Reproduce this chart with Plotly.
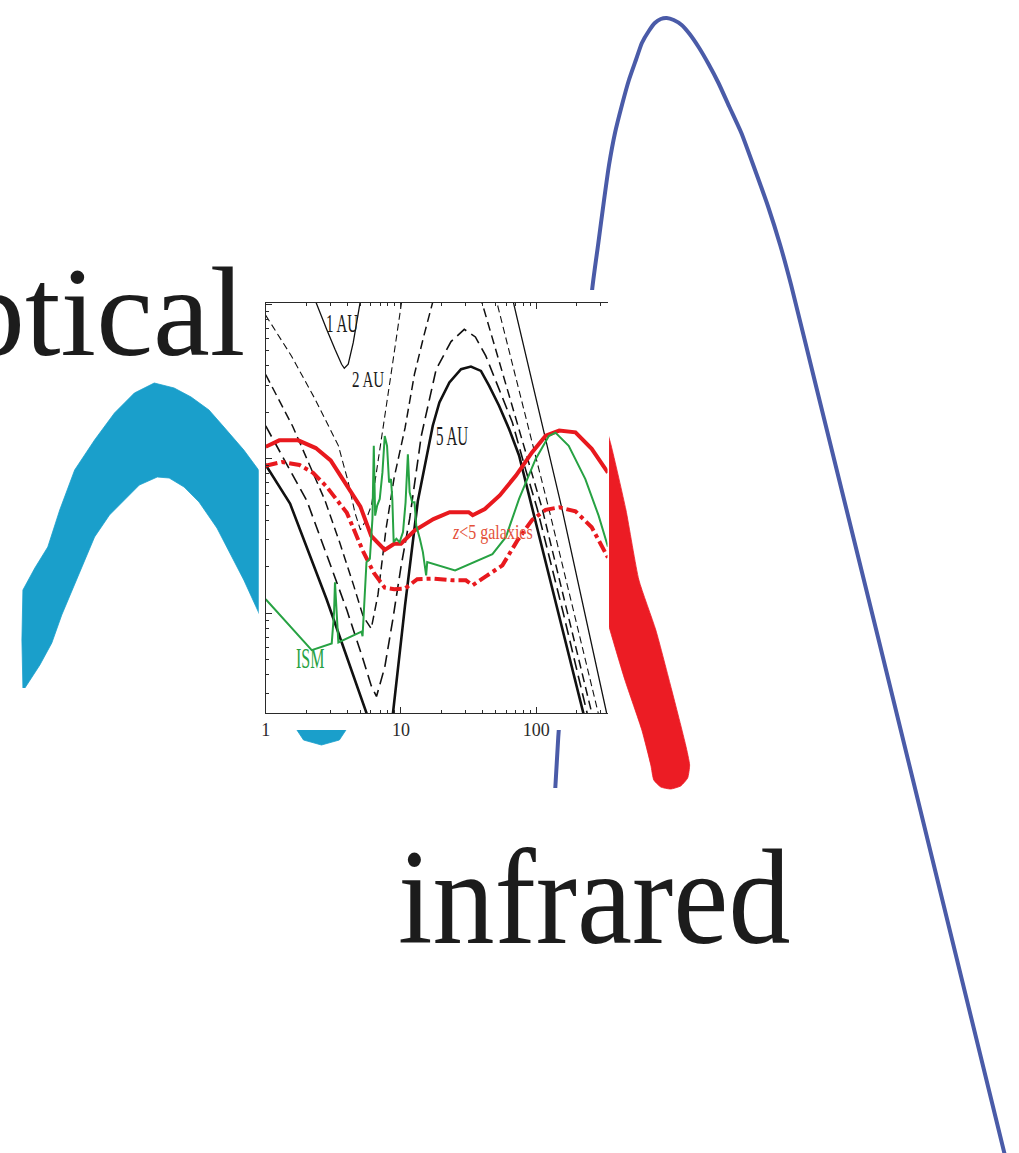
import json
import numpy as np
import plotly.graph_objects as go

W, H = 1019, 1153

# ---------------------------------------------------------------------------
# Inset panel data: log10 wavelength (micron) and log10 surface brightness
# ---------------------------------------------------------------------------
AU1_LOGWL = [0.36, 0.377, 0.451, 0.512, 0.561, 0.581, 0.610, 0.647, 0.672, 0.696, 0.705,
             None, 1.80, 1.835, 2.19, 2.52, 2.60]
AU1_LOGI = [1.04, 1.0, 0.839, 0.71, 0.613, 0.587, 0.613, 0.753, 0.882, 1.0, 1.05,
            None, 1.13, 1.0, -0.323, -1.647, -1.95]

AU2_LOGWL = [0.0, 0.19, 0.365, 0.537, 0.61, 0.66, 0.70, 0.74, 0.782, 0.85, 0.92, 1.002, 1.02,
             None, 1.65, 1.713, 2.093, 2.46, 2.55]
AU2_LOGI = [0.93, 0.667, 0.387, 0.086, -0.15, -0.35, -0.46, -0.40, -0.30, 0.09, 0.51, 1.0, 1.1,
            None, 1.2, 1.0, -0.323, -1.647, -1.98]

AU3_LOGWL = [0.0, 0.2, 0.439, 0.55, 0.65, 0.72, 0.78, 0.83, 0.89, 0.95, 1.03, 1.10, 1.17, 1.23, 1.26,
             None, 1.56, 1.603, 2.044, 2.41, 2.50]
AU3_LOGI = [0.546, 0.21, -0.271, -0.55, -0.82, -1.02, -1.10, -0.88, -0.45, -0.12, 0.2, 0.55, 0.8, 1.0, 1.1,
            None, 1.15, 1.0, -0.323, -1.647, -1.97]

AU4_LOGWL = [0.0, 0.15, 0.304, 0.45, 0.6, 0.72, 0.78, 0.819, 0.88, 0.941, 1.0, 1.064, 1.15, 1.26,
             1.37, 1.468, 1.55, 1.627, 1.725, 1.823, 1.92, 2.007, 2.2, 2.375, 2.45]
AU4_LOGI = [0.213, -0.03, -0.271, -0.62, -0.98, -1.3, -1.47, -1.54, -1.35, -1.034, -0.7, -0.389, 0.148, 0.58,
            0.76, 0.839, 0.79, 0.667, 0.452, 0.237, -0.065, -0.323, -1.0, -1.647, -1.92]

AU5_LOGWL = [-0.02, 0.0, 0.18, 0.45, 0.745, 0.84, 0.941, 1.03, 1.125, 1.235, 1.284, 1.358, 1.444, 1.517,
             1.591, 1.652, 1.725, 1.799, 1.873, 1.95, 2.15, 2.35, 2.42]
AU5_LOGI = [-0.01, -0.04, -0.29, -0.91, -1.647, -2.4, -1.647, -0.95, -0.271, 0.215, 0.366, 0.495, 0.581, 0.598,
            0.570, 0.473, 0.344, 0.194, 0.022, -0.25, -0.95, -1.647, -1.9]

GAL_HI_LOGWL = [0.0, 0.1, 0.24, 0.37, 0.48, 0.6, 0.7, 0.78, 0.88, 0.95, 1.0, 1.1, 1.24, 1.36, 1.5, 1.53,
                1.62, 1.73, 1.85, 1.97, 2.07, 2.17, 2.29, 2.41, 2.53]
GAL_HI_LOGI = [0.078, 0.12, 0.12, 0.07, -0.01, -0.17, -0.31, -0.50, -0.59, -0.55, -0.55, -0.465, -0.39,
               -0.346, -0.346, -0.365, -0.325, -0.237, -0.108, 0.043, 0.15, 0.183, 0.172, 0.065, -0.09]

GAL_LO_LOGWL = [0.0, 0.12, 0.25, 0.35, 0.45, 0.6, 0.72, 0.8, 0.88, 0.95, 1.03, 1.12, 1.24, 1.38, 1.48, 1.53,
                1.63, 1.75, 1.86, 1.97, 2.07, 2.17, 2.29, 2.41, 2.53]
GAL_LO_LOGI = [-0.045, -0.02, -0.04, -0.09, -0.18, -0.35, -0.6, -0.74, -0.835, -0.845, -0.84, -0.78, -0.776,
               -0.787, -0.787, -0.819, -0.76, -0.69, -0.53, -0.395, -0.33, -0.314, -0.34, -0.443, -0.64]

ISM_LOGWL = [0.0, 0.34, 0.488, 0.505, 0.512, 0.522, 0.537, 0.708, 0.716, 0.728, 0.745, 0.77, 0.789, 0.799,
             0.809, 0.824, 0.843, 0.863, 0.88, 0.897, 0.912, 0.926, 0.936, 0.946, 0.966, 0.99, 1.015, 1.034,
             1.051, 1.064, 1.083, 1.1, 1.113, 1.14, 1.162, 1.186, 1.194, 1.4, 1.676, 1.775, 1.873, 1.995,
             2.093, 2.142, 2.24, 2.363, 2.461, 2.53]
ISM_LOGI = [-0.91, -1.24, -1.196, -1.0, -0.80, -1.0, -1.19, -1.12, -1.15, -0.95, -0.669, -0.647, -0.389, 0.084,
            -0.368, -0.303, -0.26, -0.088, 0.148, 0.084, -0.153, -0.131, -0.26, -0.54, -0.518, -0.54, -0.475,
            -0.282, 0.03, -0.217, -0.282, -0.282, -0.432, -0.52, -0.604, -0.755, -0.669, -0.723, -0.617,
            -0.508, -0.26, -0.002, 0.148, 0.17, 0.084, -0.131, -0.368, -0.57]

INSET_LABELS = ["1 AU", "2 AU", "5 AU", "ISM", "<i>z</i>&lt;5 galaxies"]
INSET_LABEL_LOGWL = [0.566, 0.757, 1.375, 0.331, 1.676]
INSET_LABEL_LOGI = [0.871, 0.52, 0.148, -1.29, -0.477]

# ---------------------------------------------------------------------------
# Background sketch (page pixel coordinates, y downward)
# ---------------------------------------------------------------------------
BLUE_X = [553, 556, 590, 596, 602, 607, 613, 620, 627, 634, 640, 647, 653, 659, 665, 672, 680, 688, 697,
          707, 717, 728, 740, 753, 767, 779, 790, 816, 878, 1006]
BLUE_Y = [788, 737, 290, 245, 200, 165, 133, 105, 80, 60, 43, 31, 23, 19, 18, 20, 25, 34, 47,
          64, 83, 107, 133, 168, 207, 245, 285, 390, 640, 1160]

CYAN_X = [18, 17, 18, 30, 43, 55, 70, 90, 110, 130, 150, 170, 187, 205, 220, 240, 260, 290, 320, 340, 344,
          336, 318, 300, 292, 285, 272, 255, 240, 213, 195, 180, 165, 153, 135, 120, 105, 90, 78, 67, 57,
          47, 35, 20]
CYAN_Y = [688, 640, 590, 568, 547, 510, 470, 440, 413, 393, 383, 388, 397, 410, 427, 450, 477, 545, 620,
          690, 728, 740, 745, 740, 728, 690, 650, 612, 580, 528, 502, 487, 478, 477, 485, 500, 515, 537,
          565, 590, 615, 643, 665, 688]

RED_X = [596, 609, 624, 637, 654, 670, 684, 688, 686, 679, 669, 659, 652, 649, 640, 623, 608, 592, 575, 562]
RED_Y = [400, 445, 510, 580, 630, 690, 745, 765, 778, 786, 789, 787, 780, 765, 730, 680, 630, 570, 480, 400]

PANEL_X = [255, 607, 607, 255, 255]
PANEL_Y = [290, 290, 730, 730, 290]

BIG_WORDS = ["optical", "infrared"]
BIG_WORD_X = [243, 791]
BIG_WORD_Y = [312, 897]

SERIF = "Liberation Serif, Times New Roman, serif"
INK = "#1c1c1c"


def wl(values):
    return [None if v is None else 10 ** v for v in values]


fig = go.Figure()

# --- sketch layer -----------------------------------------------------------
fig.add_trace(go.Scatter(x=CYAN_X, y=CYAN_Y, mode="lines", fill="toself", fillcolor="#1a9fcb",
                         line=dict(width=0.8, color="#1a9fcb"), hoverinfo="skip"))
fig.add_trace(go.Scatter(x=RED_X, y=RED_Y, mode="lines", fill="toself", fillcolor="#ec1c24",
                         line=dict(width=0.8, color="#ec1c24", shape="spline", smoothing=0.5),
                         hoverinfo="skip"))
fig.add_trace(go.Scatter(x=BLUE_X, y=BLUE_Y, mode="lines",
                         line=dict(width=4, color="#4a5ba8", shape="spline", smoothing=0.5),
                         hoverinfo="skip"))
fig.add_trace(go.Scatter(x=PANEL_X, y=PANEL_Y, mode="lines", fill="toself", fillcolor="white",
                         line=dict(width=0, color="white"), hoverinfo="skip"))

# --- inset panel ------------------------------------------------------------
curves = [
    (AU1_LOGWL, AU1_LOGI, dict(color="#111111", width=1.3)),
    (AU2_LOGWL, AU2_LOGI, dict(color="#111111", width=1.1, dash="7px,4px")),
    (AU3_LOGWL, AU3_LOGI, dict(color="#111111", width=1.5, dash="9px,5px")),
    (AU4_LOGWL, AU4_LOGI, dict(color="#111111", width=1.6, dash="12px,6px")),
    (AU5_LOGWL, AU5_LOGI, dict(color="#111111", width=2.6)),
    (GAL_LO_LOGWL, GAL_LO_LOGI, dict(color="#e8191e", width=4, dash="12px,4px,4px,4px")),
    (GAL_HI_LOGWL, GAL_HI_LOGI, dict(color="#e8191e", width=4)),
    (ISM_LOGWL, ISM_LOGI, dict(color="#27a243", width=2)),
]
for lx, ly, style in curves:
    fig.add_trace(go.Scatter(x=wl(lx), y=wl(ly), mode="lines", line=style,
                             connectgaps=False, xaxis="x2", yaxis="y2", hoverinfo="skip"))

annotations = []
stretch = []
label_colors = ["#1a1a1a", "#1a1a1a", "#1a1a1a", "#27a243", "#e4513a"]
label_sizes = [15, 15, 15, 16, 16]
label_stretch = [1.7, 1.5, 1.8, 1.9, 1.3]
for text, lx, ly, c, s, k in zip(INSET_LABELS, INSET_LABEL_LOGWL, INSET_LABEL_LOGI,
                                 label_colors, label_sizes, label_stretch):
    annotations.append(dict(text=text, x=lx, y=ly, xref="x2", yref="y2", showarrow=False,
                            font=dict(family=SERIF, size=s, color=c)))
    stretch.append(k)

for word, x, y, s, k in zip(BIG_WORDS, BIG_WORD_X, BIG_WORD_Y, [128, 124], [1.0, 1.1]):
    annotations.append(dict(text=word, x=x, y=y, xref="x", yref="y", showarrow=False,
                            xanchor="right", yanchor="middle",
                            font=dict(family=SERIF, size=s, color=INK)))
    stretch.append(k)

axis_common = dict(showline=True, linecolor="#2a2a2a", linewidth=1, ticks="inside",
                   tickcolor="#2a2a2a", ticklen=6, tickwidth=1, showgrid=False, zeroline=False,
                   minor=dict(ticks="inside", ticklen=3, tickcolor="#2a2a2a", showgrid=False))

fig.update_layout(
    width=W, height=H, autosize=False,
    margin=dict(l=0, r=0, t=0, b=0, pad=0),
    paper_bgcolor="white", plot_bgcolor="white",
    showlegend=False,
    xaxis=dict(range=[0, W], domain=[0, 1], visible=False, fixedrange=True),
    yaxis=dict(range=[H, 0], domain=[0, 1], visible=False, fixedrange=True),
    xaxis2=dict(type="log", range=[0, 2.527], domain=[262 / W, 605.5 / W], anchor="y2",
                dtick=1, mirror="ticks", showticklabels=True,
                tickfont=dict(family=SERIF, size=18, color="#2a2a2a"), **axis_common),
    yaxis2=dict(type="log", range=[-1.647, 1.01], domain=[1 - 713 / H, 1 - 303 / H], anchor="x2",
                dtick=1, showticklabels=False, **axis_common),
    annotations=annotations,
)

stretch_js = """
var gd = document.getElementById('{plot_id}');
var k = STRETCH;
gd.querySelectorAll('g.annotation').forEach(function (g) {
  var i = +g.getAttribute('data-index');
  var t = g.querySelector('text.annotation-text');
  if (!t || !k[i] || k[i] === 1) { return; }
  t.style.transformBox = 'fill-box';
  t.style.transformOrigin = '50% 50%';
  t.style.transform = 'scaleY(' + k[i] + ')';
});
""".replace("STRETCH", json.dumps(stretch))

fig.write_html("out.html", post_script=stretch_js)
